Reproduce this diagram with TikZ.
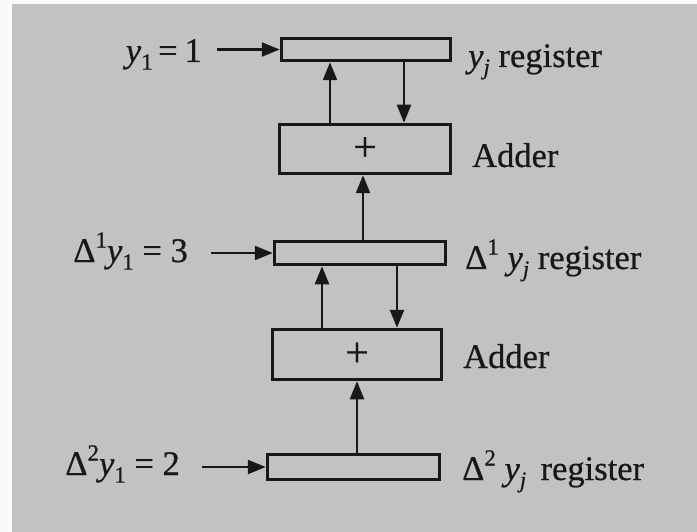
\documentclass[tikz,border=0pt]{standalone}
\usepackage{fontspec}
\setmainfont{Liberation Serif}[FakeBold=0.6]
\usetikzlibrary{arrows.meta}
\definecolor{paper}{RGB}{194,194,196}
\definecolor{ink}{RGB}{24,24,26}
% sub- and superscripts set by hand in the text font
\newcommand\lo[1]{\raisebox{-0.22em}{\fontsize{23}{23}\selectfont #1}}
\newcommand\hi[1]{\raisebox{0.42em}{\fontsize{23}{23}\selectfont #1}}
\newcommand\vy{\textit{y}}
\newcommand\plus{{\fontsize{42}{42}\selectfont +}}
\begin{document}
\begin{tikzpicture}[x=1pt,y=-1pt,
  font=\fontsize{34.5}{40}\selectfont,
  box/.style={draw=ink,line width=3.5pt,inner sep=0pt,text=ink},
  arr/.style={draw=ink,line width=2.4pt,-{Triangle[length=18pt,width=14pt]}},
  lbl/.style={text=ink,inner sep=0pt}]
% page
\fill[paper] (0,0) rectangle (697,532);
\fill[white!92!paper] (0,0) rectangle (12,532);
\fill[white!92!paper] (0,0) rectangle (697,4);
\useasboundingbox (0,0) rectangle (697,532);

% registers and adders
\node[box,minimum width=169pt,minimum height=22pt] (r0) at (366,49.5) {};
\node[box,minimum width=171pt,minimum height=49pt] (a1) at (365,149) {\plus};
\node[box,minimum width=171pt,minimum height=23pt] (r1) at (360,253) {};
\node[box,minimum width=169pt,minimum height=50pt] (a2) at (357,354.5) {\plus};
\node[box,minimum width=172pt,minimum height=25pt] (r2) at (353.5,467) {};

% columns of the vertical connectors
\coordinate (c1) at (330,0);
\coordinate (c2) at (404,0);
\coordinate (c3) at (363,0);
\coordinate (c4) at (322,0);
\coordinate (c5) at (397,0);
\coordinate (c6) at (357,0);

\draw[arr] (a1.north -| c1) -- (r0.south -| c1);
\draw[arr] (r0.south -| c2) -- (a1.north -| c2);
\draw[arr] (r1.north -| c3) -- (a1.south -| c3);
\draw[arr] (a2.north -| c4) -- (r1.south -| c4);
\draw[arr] (r1.south -| c5) -- (a2.north -| c5);
\draw[arr] (r2.north -| c6) -- (a2.south -| c6);

% initial values
\node[lbl,anchor=base east] (l0) at (202,62) {\vy\lo{1}\hspace{0.16em}=\hspace{0.2em}1};
\node[lbl,anchor=base east] (l1) at (188,262) {Δ\hi{1}\vy\lo{1} = 3};
\node[lbl,anchor=base east] (l2) at (180,475) {Δ\hi{2}\vy\lo{1} = 2};
\draw[arr,shorten <=15pt] (l0.east |- r0.west) -- (r0.west);
\draw[arr,shorten <=23pt] (l1.east |- r1.west) -- (r1.west);
\draw[arr,shorten <=22pt] (l2.east |- r2.west) -- (r2.west);

% unit names
\node[lbl,anchor=base west] (t0) at (468,67) {\vy\lo{\textit{j}} register};
\node[lbl,anchor=base west] (t1) at (472,167) {Adder};
\node[lbl,anchor=base west] (t2) at (465,269) {Δ\hi{1} \vy\lo{\textit{j}} register};
\node[lbl,anchor=base west] (t3) at (463,368) {Adder};
\node[lbl,anchor=base west] (t4) at (462,480) {Δ\hi{2} \vy\lo{\textit{j}}\, register};
\end{tikzpicture}
\end{document}
